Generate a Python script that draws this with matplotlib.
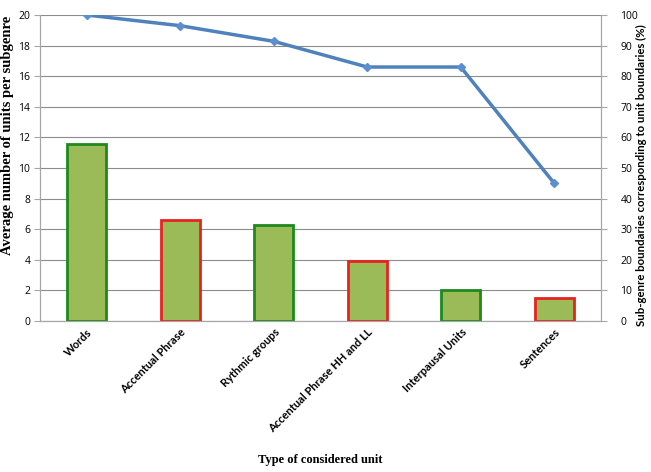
import matplotlib
matplotlib.use("Agg")
import matplotlib.pyplot as plt
import numpy as np

categories = ["Words", "Accentual Phrase", "Rythmic groups", "Accentual Phrase HH and LL",
              "Interpausal Units", "Sentences"]
avg_units = [11.6, 6.6, 6.25, 3.9, 2.05, 1.5]
boundary_pct = [100, 96.5, 91.4, 83, 83, 45]
edge_colors = ["#1e8a1e", "#e8231f", "#1e8a1e", "#e8231f", "#1e8a1e", "#e8231f"]

fig = plt.figure(figsize=(6.51, 4.72), dpi=100)
ax = fig.add_axes([40/651, 1-321/472, 561/651, 306/472])
x = np.arange(len(categories))

ax.bar(x, avg_units, width=0.42, color="#9bbb59", edgecolor=edge_colors, linewidth=2, zorder=3)
ax.set_ylim(0, 20)
ax.set_xlim(-0.5, len(categories)-0.5)
ax.set_yticks(np.arange(0, 21, 2))
ax.yaxis.grid(True, color="#8c8c8c", linewidth=0.8, zorder=0)
ax.set_axisbelow(True)
for s in ["left", "right", "bottom", "top"]:
    ax.spines[s].set_color("#a6a6a6")
ax.spines["top"].set_visible(False)
ax.tick_params(axis="y", length=4, color="#a6a6a6", labelsize=7.5, pad=3)
ax.tick_params(axis="x", length=0, pad=4)
ax.set_xticks(x)
ax.set_xticklabels(categories, rotation=45, ha="right", rotation_mode="anchor",
                   fontsize=8, fontweight="bold", family="Lato")
for lab in ax.get_yticklabels():
    lab.set_family("Open Sans")

ax2 = ax.twinx()
ax2.plot(x, boundary_pct, color="#4f81bd", linewidth=2.5, marker="D", markersize=4.5,
         markerfacecolor="#5b8fd0", markeredgecolor="#5b8fd0", zorder=5)
ax2.set_ylim(0, 100)
ax2.set_yticks(np.arange(0, 101, 10))
ax2.tick_params(axis="y", length=4, color="#a6a6a6", labelsize=7.5, pad=10)
for lab in ax2.get_yticklabels():
    lab.set_family("Open Sans")
for s in ["left", "right", "bottom", "top"]:
    ax2.spines[s].set_color("#a6a6a6")
ax2.spines["top"].set_visible(False)

fig.text(641/651, 1-175/472, "Sub-genre boundaries corresponding to unit boundaries (%)",
         rotation=90, ha="center", va="center", fontsize=8.2, fontweight="bold",
         family="Lato")
fig.text(0.011, 1-135/472, "Average number of units per subgenre", rotation=90,
         ha="center", va="center", fontsize=10.5, fontweight="bold", family="Liberation Serif")
fig.text(320/651, 1-460/472, "Type of considered unit", ha="center", va="center",
         fontsize=9, fontweight="bold", family="Liberation Serif")

fig.savefig("out.png", dpi=100)
